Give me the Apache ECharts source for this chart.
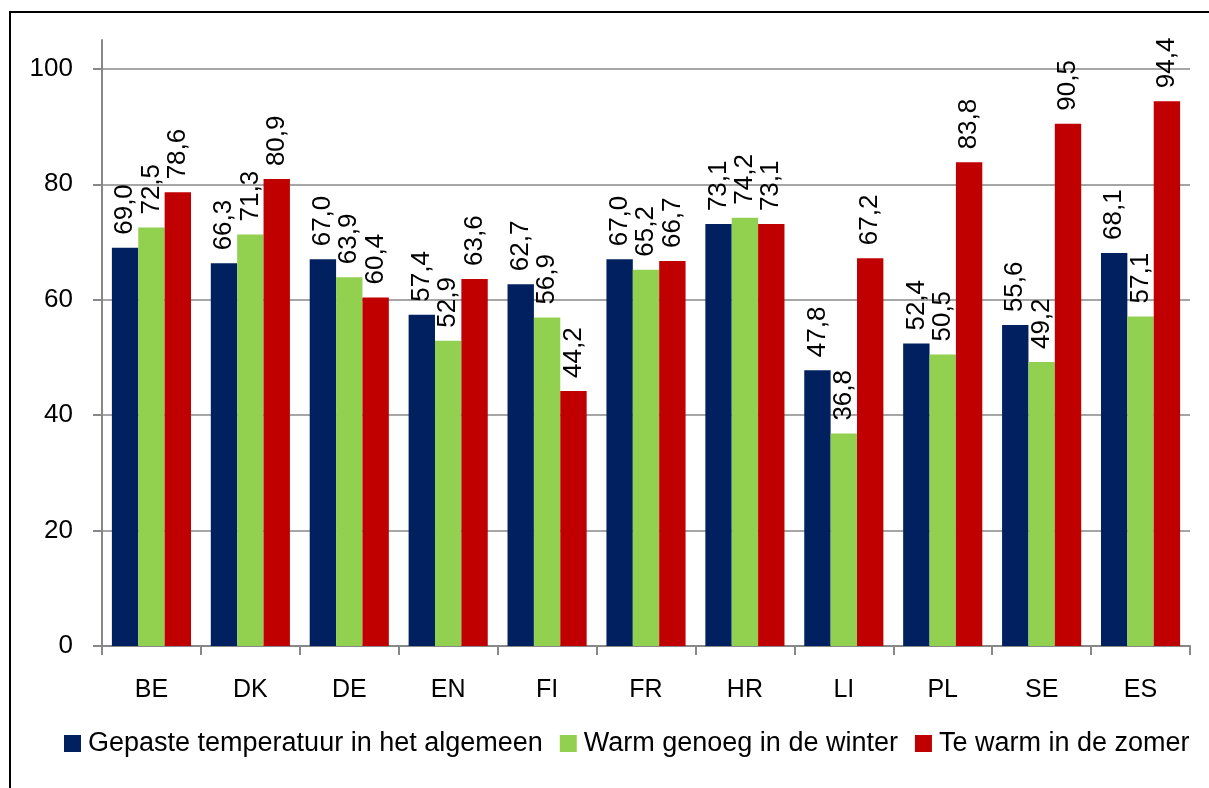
<!DOCTYPE html>
<html>
<head>
<meta charset="utf-8">
<script src="https://cdn.jsdelivr.net/npm/echarts@6/dist/echarts.min.js"></script>
<style>
  html, body { margin: 0; padding: 0; background: #fff; }
  #chart { width: 1209px; height: 788px; }
</style>
</head>
<body>
<div id="chart"></div>
<script>
const categories = ['BE', 'DK', 'DE', 'EN', 'FI', 'FR', 'HR', 'LI', 'PL', 'SE', 'ES'];
const seriesNames = ['Gepaste temperatuur in het algemeen', 'Warm genoeg in de winter', 'Te warm in de zomer'];
const gepast = [69.0, 66.3, 67.0, 57.4, 62.7, 67.0, 73.1, 47.8, 52.4, 55.6, 68.1];
const winter = [72.5, 71.3, 63.9, 52.9, 56.9, 65.2, 74.2, 36.8, 50.5, 49.2, 57.1];
const zomer  = [78.6, 80.9, 60.4, 63.6, 44.2, 66.7, 73.1, 67.2, 83.8, 90.5, 94.4];
const yTicks = [0, 20, 40, 60, 80, 100];
const colors = ['#002060', '#92D050', '#C00000'];

const FONT = '"Liberation Sans", Arial, sans-serif';
const chart = echarts.init(document.getElementById('chart'), null, { renderer: 'canvas' });

function mkSeries(name, data, color) {
  return {
    name: name,
    type: 'bar',
    data: data,
    barGap: '0%',
    barCategoryGap: '20%',
    itemStyle: { color: color },
    label: {
      show: true,
      position: 'top',
      rotate: 90,
      align: 'left',
      verticalAlign: 'middle',
      distance: 13,
      color: '#000',
      fontFamily: FONT,
      fontSize: 26,
      formatter: p => p.value.toFixed(1).replace('.', ',')
    },
    emphasis: { disabled: true },
    animation: false
  };
}

chart.setOption({
  animation: false,
  backgroundColor: '#fff',
  graphic: [{
    type: 'rect',
    shape: { x: 10, y: 12, width: 1400, height: 1000 },
    style: { fill: 'none', stroke: '#000', lineWidth: 2 },
    silent: true
  }],
  grid: { left: 102, right: 19, top: 40, bottom: 142 },
  legend: {
    data: seriesNames,
    left: 64,
    top: 730,
    padding: 0,
    icon: 'rect',
    itemWidth: 17,
    itemHeight: 17,
    itemGap: 17,
    textStyle: { fontFamily: FONT, fontSize: 27, color: '#000', padding: [0, 0, 0, 2] }
  },
  xAxis: {
    type: 'category',
    data: categories,
    axisLine: { lineStyle: { color: '#888', width: 2 } },
    axisTick: { show: true, length: 9, lineStyle: { color: '#888', width: 2 } },
    axisLabel: { margin: 32, fontFamily: FONT, fontSize: 25, color: '#000' }
  },
  yAxis: {
    type: 'value',
    min: 0,
    max: 105,
    interval: 20,
    axisLine: { show: true, lineStyle: { color: '#888', width: 2 } },
    axisTick: { show: true, length: 9, customValues: yTicks, lineStyle: { color: '#888', width: 2 } },
    axisLabel: { customValues: yTicks, margin: 29, fontFamily: FONT, fontSize: 26, color: '#000' },
    splitLine: { show: true, lineStyle: { color: ['#888', '#888', '#888', '#888', '#888', '#888', 'rgba(0,0,0,0)'], width: 1.5 } }
  },
  series: [
    mkSeries(seriesNames[0], gepast, colors[0]),
    mkSeries(seriesNames[1], winter, colors[1]),
    mkSeries(seriesNames[2], zomer, colors[2])
  ]
});
</script>
</body>
</html>
